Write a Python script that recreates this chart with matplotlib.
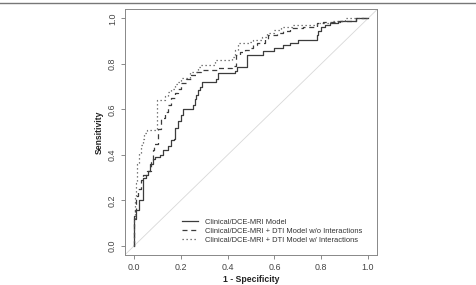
import matplotlib
matplotlib.use("Agg")
import matplotlib.pyplot as plt
from matplotlib.lines import Line2D

plt.rcParams['font.family'] = ['Liberation Sans', 'DejaVu Sans']

# ROC points (1 - specificity, sensitivity)
fpr_clin = [0, 0, 0.007, 0.02, 0.037, 0.05, 0.06, 0.07, 0.08, 0.09, 0.11, 0.125, 0.145, 0.158,
            0.173, 0.177, 0.19, 0.203, 0.21, 0.252, 0.26, 0.267, 0.274, 0.281, 0.291, 0.35, 0.36,
            0.431, 0.44, 0.484, 0.55, 0.60, 0.638, 0.666, 0.70, 0.78, 0.787, 0.80, 0.816, 0.837,
            0.87, 0.95, 1.0]
tpr_clin = [0, 0.12, 0.16, 0.20, 0.30, 0.31, 0.33, 0.36, 0.38, 0.39, 0.40, 0.42, 0.44, 0.465,
            0.47, 0.52, 0.55, 0.575, 0.60, 0.62, 0.645, 0.665, 0.685, 0.70, 0.72, 0.735, 0.76,
            0.77, 0.785, 0.84, 0.855, 0.868, 0.883, 0.893, 0.905, 0.927, 0.946, 0.963, 0.97, 0.981,
            0.99, 1.0, 1.0]

fpr_noint = [0, 0, 0.005, 0.009, 0.016, 0.03, 0.04, 0.055, 0.073, 0.08, 0.087, 0.103, 0.117,
             0.131, 0.145, 0.16, 0.174, 0.188, 0.203, 0.224, 0.245, 0.267, 0.288, 0.355, 0.42,
             0.435, 0.452, 0.474, 0.495, 0.509, 0.524, 0.56, 0.573, 0.61, 0.638, 0.666, 0.723,
             0.78, 0.809, 0.88, 0.95, 1.0]
tpr_noint = [0, 0.13, 0.16, 0.22, 0.25, 0.29, 0.31, 0.33, 0.37, 0.42, 0.45, 0.515, 0.56,
             0.59, 0.62, 0.65, 0.67, 0.69, 0.715, 0.735, 0.75, 0.765, 0.772, 0.78, 0.79,
             0.84, 0.853, 0.86, 0.868, 0.883, 0.89, 0.908, 0.927, 0.934, 0.946, 0.956, 0.963,
             0.978, 0.985, 0.99, 1.0, 1.0]

fpr_int = [0, 0, 0.003, 0.009, 0.013, 0.02, 0.03, 0.037, 0.044, 0.055, 0.1, 0.131, 0.145,
           0.16, 0.174, 0.188, 0.203, 0.238, 0.275, 0.285, 0.345, 0.417, 0.431, 0.445, 0.495,
           0.51, 0.545, 0.567, 0.60, 0.63, 0.673, 0.78, 0.84, 0.9, 1.0]
tpr_int = [0, 0.12, 0.22, 0.275, 0.36, 0.41, 0.445, 0.47, 0.495, 0.51, 0.64, 0.66, 0.675,
           0.69, 0.71, 0.72, 0.74, 0.765, 0.785, 0.795, 0.815, 0.83, 0.86, 0.89, 0.897,
           0.905, 0.92, 0.937, 0.949, 0.96, 0.97, 0.98, 0.99, 1.0, 1.0]

labels = ['Clinical/DCE-MRI Model',
          'Clinical/DCE-MRI + DTI Model w/o Interactions',
          'Clinical/DCE-MRI + DTI Model w/ Interactions']
ticks = [0.0, 0.2, 0.4, 0.6, 0.8, 1.0]

fig = plt.figure(figsize=(4.76, 2.85), dpi=100)
ax = fig.add_axes([0.2618, 0.1049, 0.5311, 0.8628])

ax.axline((0, 0), slope=1, color='#d8d8d8', lw=0.6, zorder=1)
ln_col = '#3c3c3c'
ax.plot(fpr_clin, tpr_clin, drawstyle='steps-post', color=ln_col, lw=0.9, label=labels[0])
ax.plot(fpr_noint, tpr_noint, drawstyle='steps-post', color=ln_col, lw=0.9,
        linestyle=(0, (4, 3)), label=labels[1])
ax.plot(fpr_int, tpr_int, drawstyle='steps-post', color='#555555', lw=0.9,
        linestyle=(0, (1, 2.2)), label=labels[2])

ax.set_xlim(-0.04, 1.04)
ax.set_ylim(-0.04, 1.04)
ax.set_xticks(ticks)
ax.set_yticks(ticks)
ax.set_xticklabels(['%.1f' % t for t in ticks])
ax.set_yticklabels(['%.1f' % t for t in ticks], rotation=90, va='center')
ax.tick_params(length=3, width=0.6, color='#777777', labelsize=6.4, labelcolor='#444444', pad=2.5)
for s in ax.spines.values():
    s.set_color('#888888')
    s.set_linewidth(0.7)

ax.set_xlabel('1 - Specificity', fontsize=6.2, fontweight='bold', color='#222222', labelpad=2.0)
ax.set_ylabel('Sensitivity', fontsize=6.2, fontweight='bold', color='#222222', labelpad=3.0)

leg = ax.legend(loc='center left', bbox_to_anchor=(0.3817, 0.1884), bbox_transform=fig.transFigure,
                frameon=False, fontsize=5.4, handlelength=2.2, handletextpad=0.95,
                labelspacing=0.22, borderpad=0, borderaxespad=0)
for t in leg.get_texts():
    t.set_color('#333333')

# thin rule at the top of the image
fig.add_artist(Line2D([0, 1], [0.991, 0.991], transform=fig.transFigure, color='#777777', lw=1.0))

fig.savefig('out.png', dpi=100, facecolor='white')
